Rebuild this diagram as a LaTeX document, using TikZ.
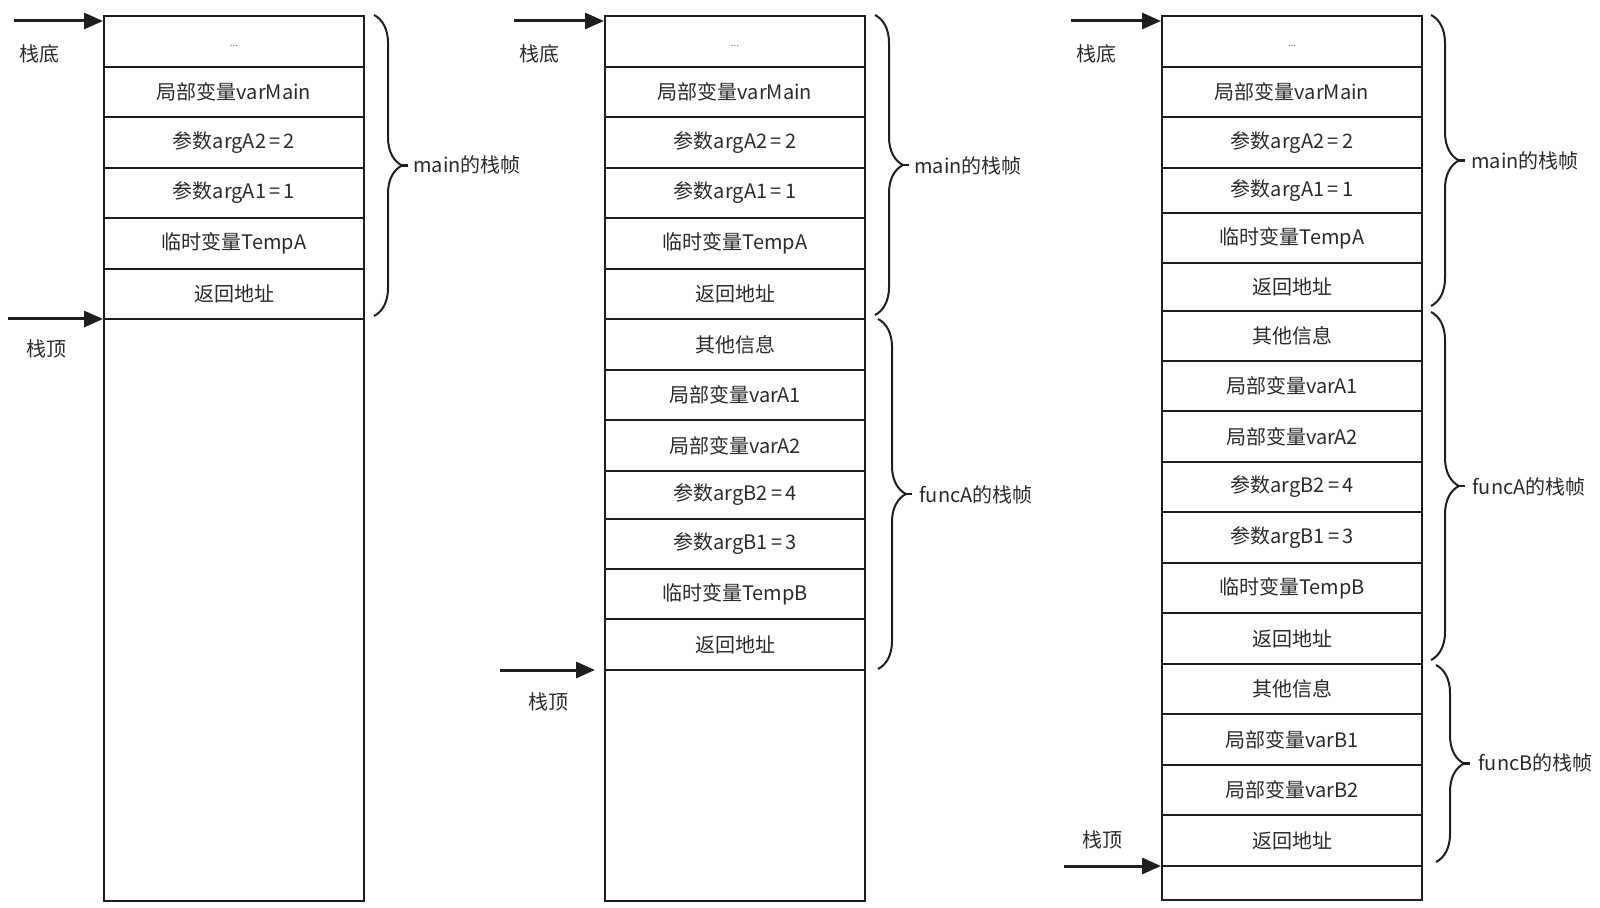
\documentclass[tikz,border=0pt]{standalone}
\usepackage{fontspec}
\setmainfont{Noto Sans CJK SC}
\usetikzlibrary{arrows.meta,decorations.pathreplacing}
\definecolor{ink}{HTML}{1E1E1E}
\definecolor{txt}{HTML}{2A2A2A}
\tikzset{
  cellbox/.style={draw=ink, line width=1.2pt, minimum width=130pt, inner sep=0pt,
    font=\fontsize{10pt}{12pt}\selectfont, text=txt},
  ptr/.style={draw=ink, line width=1.5pt, -{Triangle[length=9.5pt,width=8pt]}},
  frame/.style={draw=ink, line width=1pt, decorate, decoration={brace,amplitude=14pt}},
  stub/.style={draw=ink, line width=1.4pt},
  lbl/.style={font=\fontsize{10pt}{12pt}\selectfont, text=txt, inner sep=0pt},
  framelbl/.style={lbl, anchor=west},
  dots/.style={font=\fontsize{5pt}{6pt}\selectfont, text=txt!70}
}
\newcommand\mkcell[5]{\node[cellbox, minimum height={(#4-#3)*0.5pt}] (#1) at ({#2+130},{(#3+#4)/2}) {#5};}
\begin{document}
\begin{tikzpicture}[x=0.5pt,y=-0.5pt]
\useasboundingbox (0,0) rectangle (1600,908);
% ---------- stack 1 ----------
\mkcell{a0}{104}{16}{67}{}
\node[dots] (a0d) at (234,46) {...};
\mkcell{a1}{104}{67}{117}{局部变量varMain}
\mkcell{a2}{104}{117}{168}{参数argA2\,=\,2}
\mkcell{a3}{104}{168}{218}{参数argA1\,=\,1}
\mkcell{a4}{104}{218}{269}{临时变量TempA}
\mkcell{a5}{104}{269}{319}{返回地址}
\mkcell{a6}{104}{319}{901}{}
\node[lbl] (abot) at (39,54) {栈底};
\node[lbl] (atop) at (46,349) {栈顶};
\coordinate (aA0) at (14,21);  \coordinate (aA1) at (103,21);
\coordinate (aB0) at (8,319);  \coordinate (aB1) at (103,319);
\draw[ptr] (aA0) -- (aA1);
\draw[ptr] (aB0) -- (aB1);
\coordinate (abr0) at (374,15); \coordinate (abr1) at (374,316);
\coordinate (abt0) at (402,165.5); \coordinate (abt1) at (408,165.5);
\draw[frame] (abr0) -- (abr1);
\draw[stub] (abt0) -- (abt1);
\node[framelbl] (amain) at (413,165) {main的栈帧};
% ---------- stack 2 ----------
\mkcell{b0}{605}{16}{67}{}
\node[dots] (b0d) at (735,46) {...};
\mkcell{b1}{605}{67}{117}{局部变量varMain}
\mkcell{b2}{605}{117}{168}{参数argA2\,=\,2}
\mkcell{b3}{605}{168}{218}{参数argA1\,=\,1}
\mkcell{b4}{605}{218}{269}{临时变量TempA}
\mkcell{b5}{605}{269}{319}{返回地址}
\mkcell{b6}{605}{319}{370}{其他信息}
\mkcell{b7}{605}{370}{420}{局部变量varA1}
\mkcell{b8}{605}{420}{471}{局部变量varA2}
\mkcell{b9}{605}{471}{519}{参数argB2\,=\,4}
\mkcell{b10}{605}{519}{569}{参数argB1\,=\,3}
\mkcell{b11}{605}{569}{619}{临时变量TempB}
\mkcell{b12}{605}{619}{670}{返回地址}
\mkcell{b13}{605}{670}{901}{}
\node[lbl] (bbot) at (539,54) {栈底};
\node[lbl] (btop) at (548,702) {栈顶};
\coordinate (bA0) at (514,21);  \coordinate (bA1) at (604,21);
\coordinate (bB0) at (500,670); \coordinate (bB1) at (595,670);
\draw[ptr] (bA0) -- (bA1);
\draw[ptr] (bB0) -- (bB1);
\coordinate (bbr0) at (875,15); \coordinate (bbr1) at (875,315);
\coordinate (bbt0) at (903,165); \coordinate (bbt1) at (909,165);
\draw[frame] (bbr0) -- (bbr1);
\draw[stub] (bbt0) -- (bbt1);
\node[framelbl] (bmain) at (914,166) {main的栈帧};
\coordinate (bbr2) at (878,319); \coordinate (bbr3) at (878,669);
\coordinate (bbt2) at (906,494); \coordinate (bbt3) at (912,494);
\draw[frame] (bbr2) -- (bbr3);
\draw[stub] (bbt2) -- (bbt3);
\node[framelbl] (bfuncA) at (919,495) {funcA的栈帧};
% ---------- stack 3 ----------
\mkcell{c0}{1162}{16}{67}{}
\node[dots] (c0d) at (1292,46) {...};
\mkcell{c1}{1162}{67}{117}{局部变量varMain}
\mkcell{c2}{1162}{117}{168}{参数argA2\,=\,2}
\mkcell{c3}{1162}{168}{213}{参数argA1\,=\,1}
\mkcell{c4}{1162}{213}{263}{临时变量TempA}
\mkcell{c5}{1162}{263}{311}{返回地址}
\mkcell{c6}{1162}{311}{361}{其他信息}
\mkcell{c7}{1162}{361}{411}{局部变量varA1}
\mkcell{c8}{1162}{411}{462}{局部变量varA2}
\mkcell{c9}{1162}{462}{512}{参数argB2\,=\,4}
\mkcell{c10}{1162}{512}{563}{参数argB1\,=\,3}
\mkcell{c11}{1162}{563}{613}{临时变量TempB}
\mkcell{c12}{1162}{613}{664}{返回地址}
\mkcell{c13}{1162}{664}{714}{其他信息}
\mkcell{c14}{1162}{714}{765}{局部变量varB1}
\mkcell{c15}{1162}{765}{815}{局部变量varB2}
\mkcell{c16}{1162}{815}{866}{返回地址}
\mkcell{c17}{1162}{866}{900}{}
\node[lbl] (cbot) at (1096,54) {栈底};
\node[lbl] (ctop) at (1102,840) {栈顶};
\coordinate (cA0) at (1071,21);  \coordinate (cA1) at (1161,21);
\coordinate (cB0) at (1064,866); \coordinate (cB1) at (1161,866);
\draw[ptr] (cA0) -- (cA1);
\draw[ptr] (cB0) -- (cB1);
\coordinate (cbr0) at (1431,15); \coordinate (cbr1) at (1431,306);
\coordinate (cbt0) at (1459,160.5); \coordinate (cbt1) at (1465,160.5);
\draw[frame] (cbr0) -- (cbr1);
\draw[stub] (cbt0) -- (cbt1);
\node[framelbl] (cmain) at (1471,161) {main的栈帧};
\coordinate (cbr2) at (1431,312); \coordinate (cbr3) at (1431,660);
\coordinate (cbt2) at (1459,486); \coordinate (cbt3) at (1465,486);
\draw[frame] (cbr2) -- (cbr3);
\draw[stub] (cbt2) -- (cbt3);
\node[framelbl] (cfuncA) at (1472,487) {funcA的栈帧};
\coordinate (cbr4) at (1436,665); \coordinate (cbr5) at (1436,862);
\coordinate (cbt4) at (1464,763.5); \coordinate (cbt5) at (1470,763.5);
\draw[frame] (cbr4) -- (cbr5);
\draw[stub] (cbt4) -- (cbt5);
\node[framelbl] (cfuncB) at (1478,763) {funcB的栈帧};
\end{tikzpicture}
\end{document}
